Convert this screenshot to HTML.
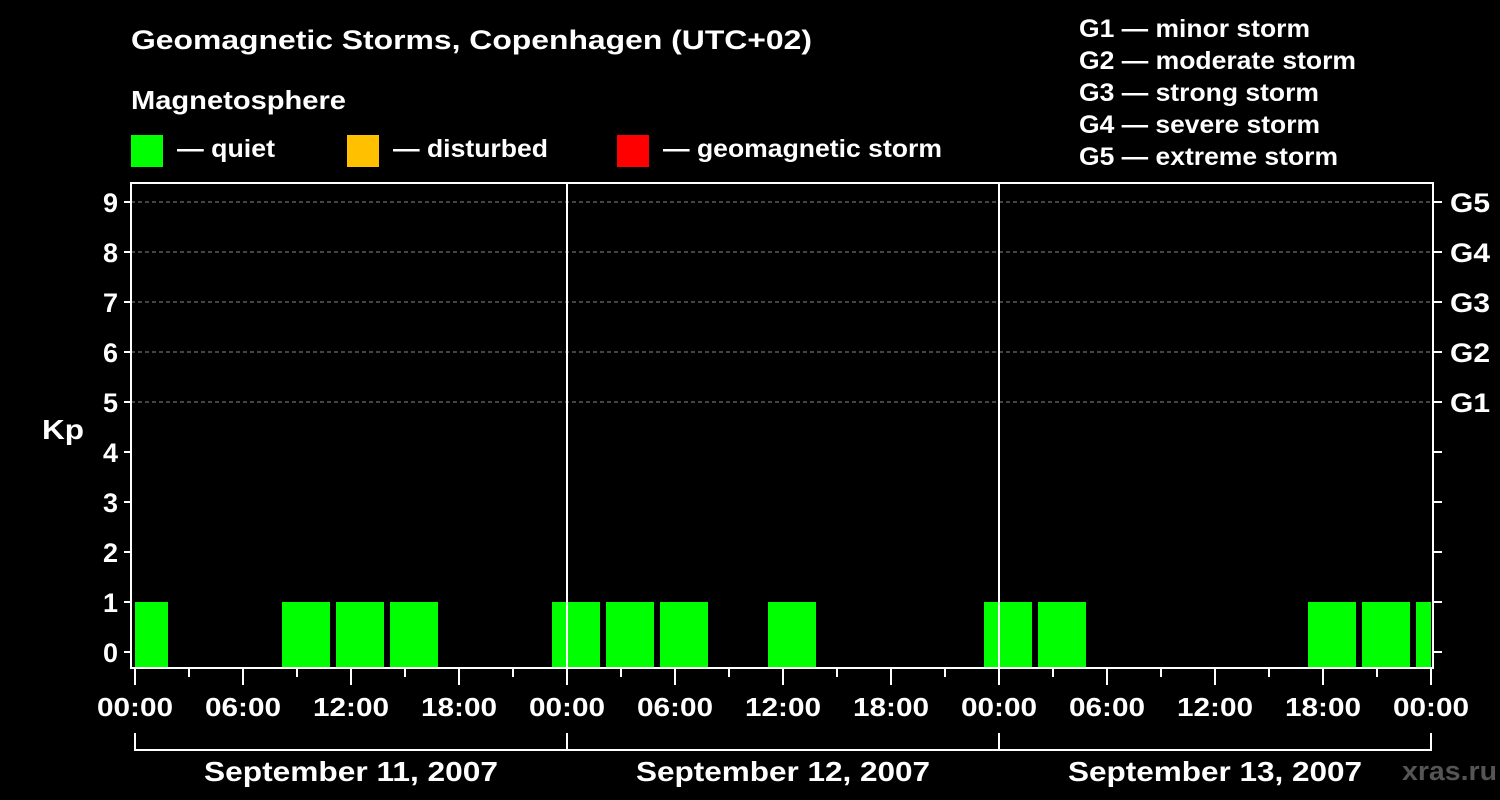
<!DOCTYPE html>
<html><head><meta charset="utf-8"><style>
html,body{margin:0;padding:0;background:#000;}
svg{display:block;font-family:"Liberation Sans",Arial,sans-serif;font-weight:bold;}
</style></head><body>
<svg id="chart" width="1500" height="800" viewBox="0 0 1500 800" xmlns="http://www.w3.org/2000/svg">
<rect width="1500" height="800" fill="#000"/>
<text x="131" y="49" fill="#fff" font-size="27" textLength="681" lengthAdjust="spacingAndGlyphs">Geomagnetic Storms, Copenhagen (UTC+02)</text>
<text x="131" y="109" fill="#fff" font-size="26" textLength="215" lengthAdjust="spacingAndGlyphs">Magnetosphere</text>
<g><rect x="131" y="135" width="32" height="32" fill="#00ff00"/><text x="177" y="157" fill="#fff" font-size="25" textLength="98" lengthAdjust="spacingAndGlyphs">— quiet</text></g>
<g><rect x="347" y="135" width="32" height="32" fill="#ffc000"/><text x="393" y="157" fill="#fff" font-size="25" textLength="155" lengthAdjust="spacingAndGlyphs">— disturbed</text></g>
<g><rect x="617" y="135" width="32" height="32" fill="#ff0000"/><text x="663" y="157" fill="#fff" font-size="25" textLength="279" lengthAdjust="spacingAndGlyphs">— geomagnetic storm</text></g>
<g fill="#fff" font-size="25" lengthAdjust="spacingAndGlyphs">
<text x="1079" y="37" textLength="231" lengthAdjust="spacingAndGlyphs">G1 — minor storm</text>
<text x="1079" y="69" textLength="277" lengthAdjust="spacingAndGlyphs">G2 — moderate storm</text>
<text x="1079" y="101" textLength="240" lengthAdjust="spacingAndGlyphs">G3 — strong storm</text>
<text x="1079" y="133" textLength="241" lengthAdjust="spacingAndGlyphs">G4 — severe storm</text>
<text x="1079" y="165" textLength="259" lengthAdjust="spacingAndGlyphs">G5 — extreme storm</text>
</g>
<text x="42" y="439" fill="#fff" font-size="28" textLength="42" lengthAdjust="spacingAndGlyphs">Kp</text>
<text x="1402" y="780" fill="#555" font-size="27" textLength="95" lengthAdjust="spacingAndGlyphs">xras.ru</text>
<g id="plot"></g>
</svg>
<script>
const kpValues = [1,0,0,1,1,1,0,0,1,1,1,0,1,0,0,0,1,1,0,0,0,0,1,1,1];
const intervalStartHours = -1;
const yTicks = [0,1,2,3,4,5,6,7,8,9];
const gLabels = ["G1","G2","G3","G4","G5"];
const gLevels = [5,6,7,8,9];
const hourLabels = ["00:00","06:00","12:00","18:00"];
const dayLabels = ["September 11, 2007","September 12, 2007","September 13, 2007"];

const NS="http://www.w3.org/2000/svg";
const plot=document.getElementById('plot');
const X0=135, PXH=18, Y0=652, PXK=50, L=131, R=1433, T=183, B=668;
const totalH=dayLabels.length*24;
const x=h=>X0+Math.max(0,Math.min(totalH,h))*PXH;
const y=k=>Y0-k*PXK;
function el(tag,attrs){const e=document.createElementNS(NS,tag);for(const k in attrs)e.setAttribute(k,attrs[k]);plot.appendChild(e);return e;}
function color(k){return k>=5?'#ff0000':(k>=4?'#ffc000':'#00ff00');}

gLevels.forEach((k,i)=>{
  const g=el('line',{x1:L,x2:R,y1:y(k),y2:y(k),stroke:'#888','stroke-width':1,'stroke-dasharray':'4,3'});
  
  
  const t=el('text',{x:1450,y:y(k)+10,fill:'#fff','font-size':27,textLength:40,lengthAdjust:'spacingAndGlyphs'});
  t.textContent=gLabels[i];
  
  
});
kpValues.forEach((k,i)=>{
  if(k<=0)return;
  const s=intervalStartHours+3*i, e=s+3;
  const x1=x(s)+(s<0?0:3), x2=x(e)-(e>totalH?0:3);
  const r=el('rect',{x:x1,y:y(k),width:x2-x1,height:B-y(k),fill:color(k)});
  
  
});
for(let d=1;d<dayLabels.length;d++){
  const l=el('line',{x1:x(d*24),x2:x(d*24),y1:T,y2:B,stroke:'#fff','stroke-width':2});
  
  
}
const f=el('rect',{x:L,y:T,width:R-L,height:B-T,fill:'none',stroke:'#fff','stroke-width':2});


yTicks.forEach(k=>{
  el('line',{x1:L-7,x2:L,y1:y(k),y2:y(k),stroke:'#fff','stroke-width':2});
  el('line',{x1:R,x2:R+9,y1:y(k),y2:y(k),stroke:'#fff','stroke-width':2});
  const t=el('text',{x:L-13,y:y(k)+10,fill:'#fff','font-size':27,'text-anchor':'end'});
  t.textContent=k;
  
  
});
for(let h=0;h<=totalH;h+=3){
  const major=h%6===0;
  el('line',{x1:x(h),x2:x(h),y1:B,y2:B+(major?17:9),stroke:'#fff','stroke-width':2});
  if(major){
    const t=el('text',{x:x(h),y:716,fill:'#fff','font-size':26,'text-anchor':'middle',textLength:76,lengthAdjust:'spacingAndGlyphs'});
    t.textContent=hourLabels[(h/6)%4];
    
    
  }
}
dayLabels.forEach((d,i)=>{
  const a=x(i*24), b=x((i+1)*24);
  el('line',{x1:a,x2:b,y1:750,y2:750,stroke:'#fff','stroke-width':2});
  el('line',{x1:a,x2:a,y1:733,y2:751,stroke:'#fff','stroke-width':2});
  el('line',{x1:b,x2:b,y1:733,y2:751,stroke:'#fff','stroke-width':2});
  const t=el('text',{x:(a+b)/2,y:781,fill:'#fff','font-size':28,'text-anchor':'middle',textLength:294,lengthAdjust:'spacingAndGlyphs'});
  t.textContent=d;
  
  
});
</script>
</body></html>
